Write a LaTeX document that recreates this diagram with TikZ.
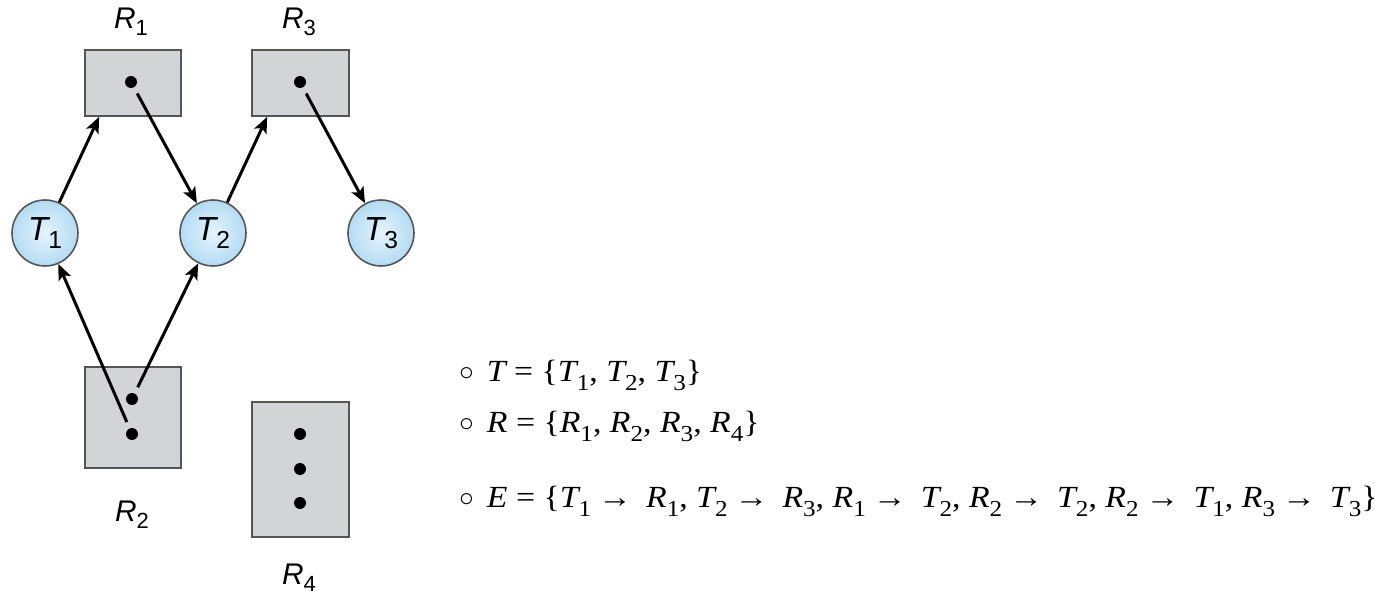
\documentclass[tikz,border=0pt]{standalone}
\usepackage{fontspec}
\newfontfamily\labfont{Liberation Sans}
\newfontfamily\setfont[FakeStretch=1.1]{Liberation Serif}
\newfontfamily\symfont{DejaVu Sans}
\usetikzlibrary{arrows.meta}
\definecolor{boxgray}{HTML}{D3D4D6}
\definecolor{edgegray}{HTML}{555555}
\definecolor{ballin}{HTML}{E6F4FD}
\definecolor{ballout}{HTML}{B3DBF3}
\newcommand{\lbl}[4]{{\labfont\fontsize{#3}{#3}\selectfont\itshape #1\raisebox{-0.22em}{\fontsize{#4}{#4}\selectfont\upshape #2}}}
\newcommand{\sv}[2]{{\itshape #1}\raisebox{-0.3em}{\fontsize{13}{13}\selectfont #2}}
\newcommand{\ar}{\hspace{4pt}→\hspace{8pt}}
\newcommand{\bul}{{\symfont\fontsize{22}{22}\selectfont\raisebox{-0.16em}{◦}}\hspace{5pt}}
\tikzset{
  resbox/.style={draw=edgegray, line width=1pt, fill=boxgray, inner sep=0pt},
  thread/.style={circle, draw=edgegray, line width=0.9pt, inner color=ballin, outer color=ballout, minimum size=1.32cm, inner sep=0pt},
  inst/.style={circle, fill=black, minimum size=0.24cm, inner sep=0pt, outer sep=0.14cm},
  arr/.style={line width=1.7pt, -{Stealth[length=9pt,width=7.5pt,inset=2pt]}},
  reslabel/.style={inner sep=0pt},
  setline/.style={anchor=base west, inner sep=0pt, font=\setfont\fontsize{17.5}{21}\selectfont}
}
\begin{document}
\begin{tikzpicture}[x=0.02cm,y=-0.02cm]
\useasboundingbox (0,0) rectangle (1375,601);
% resources
\node[resbox, minimum width=1.92cm, minimum height=1.32cm] (r1) at (133,83) {};
\node[resbox, minimum width=1.94cm, minimum height=1.32cm] (r3) at (300.5,83) {};
\node[resbox, minimum width=1.92cm, minimum height=2.02cm] (r2) at (133,417.5) {};
\node[resbox, minimum width=1.94cm, minimum height=2.70cm] (r4) at (300.5,469.5) {};
% instances
\node[inst] (r1d) at (131,82) {};
\node[inst] (r3d) at (300,82) {};
\node[inst] (r2a) at (132,399) {};
\node[inst] (r2b) at (132,434) {};
\node[inst] (r4a) at (300,434) {};
\node[inst] (r4b) at (300,469) {};
\node[inst] (r4c) at (300,503) {};
% labels
\node[reslabel] (l1) at (131,22) {\lbl{R}{1}{17}{12.5}};
\node[reslabel] (l3) at (299,22) {\lbl{R}{3}{17}{12.5}};
\node[reslabel] (l2) at (132,515) {\lbl{R}{2}{17}{12.5}};
\node[reslabel] (l4) at (299,578) {\lbl{R}{4}{17}{12.5}};
% threads
\node[thread] (t1) at (45,233) {\lbl{T}{1}{19}{14}};
\node[thread] (t2) at (213,233) {\lbl{T}{2}{19}{14}};
\node[thread] (t3) at (381,233) {\lbl{T}{3}{19}{14}};
% edges
\draw[arr] (t1) -- ([xshift=0.3cm]r1.south west);
\draw[arr] (t2) -- ([xshift=0.32cm]r3.south west);
\draw[arr] (r1d) -- (t2);
\draw[arr] (r3d) -- (t3);
\draw[arr] (r2b) -- (t1);
\draw[arr] (r2a) -- (t2);
% sets
\node[setline] (s1) at (455,381) {\bul\sv{T}{} = \{\sv{T}{1}, \sv{T}{2}, \sv{T}{3}\}};
\node[setline] (s2) at (455,432) {\bul\sv{R}{} = \{\sv{R}{1}, \sv{R}{2}, \sv{R}{3}, \sv{R}{4}\}};
\node[setline] (s3) at (455,507) {\bul\sv{E}{} = \{\sv{T}{1}\ar\sv{R}{1}, \sv{T}{2}\ar\sv{R}{3}, \sv{R}{1}\ar\sv{T}{2}, \sv{R}{2}\ar\sv{T}{2}, \sv{R}{2}\ar\sv{T}{1}, \sv{R}{3}\ar\sv{T}{3}\}};
\end{tikzpicture}
\end{document}
